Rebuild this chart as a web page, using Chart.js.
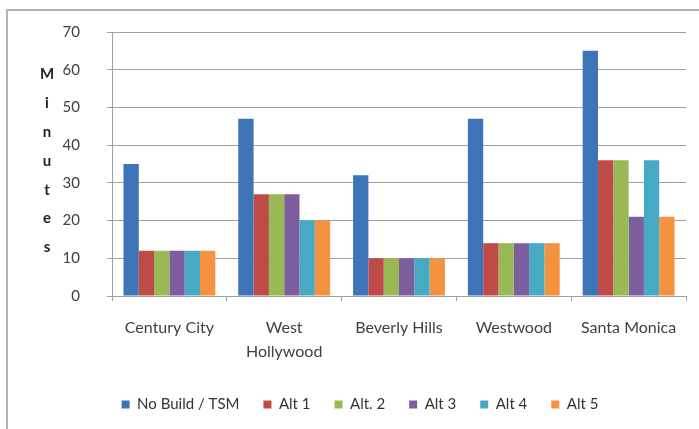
<!DOCTYPE html>
<html>
<head>
<meta charset="utf-8">
<script src="https://cdn.jsdelivr.net/npm/chart.js@4"></script>
<style>
  body { margin: 0; background: #fff; }
  #wrap { position: relative; width: 699px; height: 429px; overflow: hidden; }
  #frame { position: absolute; left: 6px; top: 9px; width: 700px; height: 430px; border: 2px solid #b4b4b4; box-sizing: border-box; }
  #marksChart { position: absolute; left: 0; top: 0; }
</style>
</head>
<body>
<div id="wrap">
  <div id="frame"></div>
  <canvas id="marksChart" width="699" height="429"></canvas>
</div>
<script>
// chart data
var cities = ['Century City', ['West', 'Hollywood'], 'Beverly Hills', 'Westwood', 'Santa Monica'];
var seriesNames = ['No Build / TSM', 'Alt 1', 'Alt. 2', 'Alt 3', 'Alt 4', 'Alt 5'];
var noBuild = [35, 47, 32, 47, 65];
var alt1 = [12, 27, 10, 14, 36];
var alt2 = [12, 27, 10, 14, 36];
var alt3 = [12, 27, 10, 14, 21];
var alt4 = [12, 20, 10, 14, 36];
var alt5 = [12, 20, 10, 14, 21];
var yTicks = [0, 10, 20, 30, 40, 50, 60, 70];
var yTitle = 'Minutes';

var colors = ['#3F73B8', '#BE4B48', '#98B954', '#7D5FA0', '#46AAC5', '#F59240'];
var allSeries = [noBuild, alt1, alt2, alt3, alt4, alt5];

document.addEventListener('DOMContentLoaded', function () {
    var data = { labels: cities, datasets: [] };
    for (var i = 0; i < seriesNames.length; i++) {
        data.datasets.push({
            label: seriesNames[i],
            backgroundColor: colors[i],
            data: allSeries[i],
            categoryPercentage: 0.8,
            barPercentage: 1.0
        });
    }

    // vertical stacked letters for the y title
    var letterTitle = {
        id: 'letterTitle',
        afterDraw: function (chart) {
            var ctx = chart.ctx;
            var area = chart.chartArea;
            var mid = (area.top + area.bottom) / 2 - 3;
            var step = 28.8;
            ctx.save();
            ctx.font = 'bold 15px Lato, sans-serif';
            ctx.fillStyle = '#222';
            ctx.textAlign = 'center';
            ctx.textBaseline = 'middle';
            for (var k = 0; k < yTitle.length; k++) {
                ctx.fillText(yTitle[k], 47, mid + (k - 3) * step);
            }
            ctx.restore();
        }
    };

    var ctx = document.getElementById('marksChart').getContext('2d');
    new Chart(ctx, {
        type: 'bar',
        data: data,
        plugins: [letterTitle],
        options: {
            responsive: false,
            animation: false,
            layout: { padding: { left: 34, right: 13, top: 32, bottom: 7 } },
            plugins: {
                tooltip: { enabled: false },
                legend: {
                    position: 'bottom',
                    labels: {
                        boxWidth: 8, boxHeight: 8, padding: 24,
                        color: '#333',
                        font: { family: 'Lato, sans-serif', size: 15 }
                    }
                }
            },
            scales: {
                x: {
                    afterFit: function (scale) { scale.height = 77; },
                    grid: { display: true, drawOnChartArea: false, color: '#a0a0a0', tickLength: 5, offset: true },
                    border: { color: '#a0a0a0' },
                    ticks: {
                        color: '#404040', padding: 15,
                        maxRotation: 0, autoSkip: false,
                        font: { family: 'Lato, sans-serif', size: 16, lineHeight: 1.5 }
                    }
                },
                y: {
                    min: 0, max: 70,
                    afterBuildTicks: function (scale) {
                        scale.ticks = yTicks.map(function (v) { return { value: v }; });
                    },
                    afterFit: function (scale) {
                        scale.width = 78;
                        scale.paddingTop = 0;
                        scale.paddingBottom = 0;
                    },
                    grid: { color: '#a0a0a0', tickLength: 5 },
                    border: { color: '#a0a0a0' },
                    ticks: {
                        color: '#404040', padding: 27,
                        font: { family: 'Lato, sans-serif', size: 15 }
                    }
                }
            }
        }
    });
});
</script>
</body>
</html>
